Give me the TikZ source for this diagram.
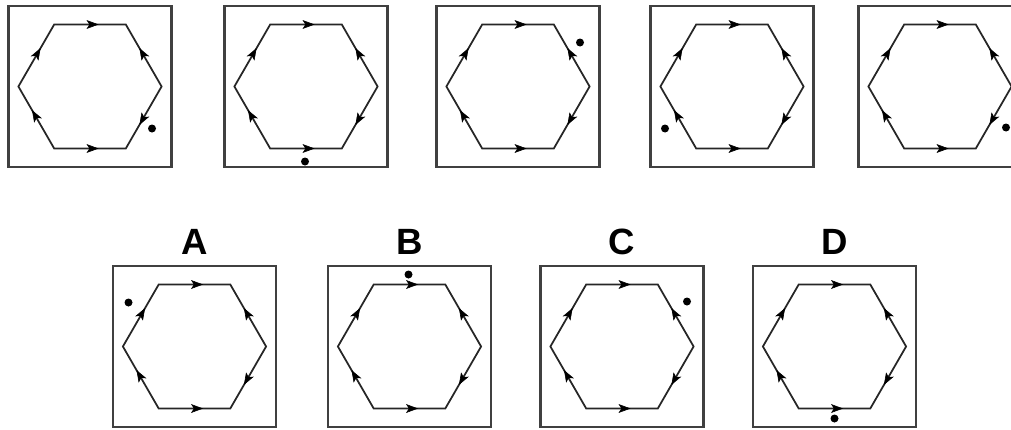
\documentclass[tikz,border=0pt]{standalone}
\usepackage{fontspec}
\setsansfont{Liberation Sans}
\usetikzlibrary{calc,decorations.markings,arrows.meta}

\tikzset{
  panel/.style={draw=black!75, line width=1.5pt, minimum width=4.075cm, minimum height=4.025cm, inner sep=0pt},
  hexline/.style={draw=black!85, line width=1.25pt, line join=miter},
  flow/.style={postaction={decorate}, decoration={markings,
      mark=at position 0.62 with {\arrow{Stealth[length=3mm,width=2.2mm,inset=0.7mm]}}}},
  lbl/.style={font=\sffamily\bfseries\fontsize{26}{30}\selectfont, inner sep=0pt, anchor=base},
}

% one panel: name, centre, offset of the dot
\newcommand{\hexpanel}[3]{
  \node[panel] (#1) at (#2) {};
  \foreach \k in {0,...,5}
    \coordinate (#1-\k) at ($(#1)+(\k*60:1.79)$);
  \draw[hexline] (#1-0) -- (#1-1) -- (#1-2) -- (#1-3) -- (#1-4) -- (#1-5) -- cycle;
  \path[flow] (#1-2) -- (#1-1); % top
  \path[flow] (#1-0) -- (#1-1); % upper right
  \path[flow] (#1-0) -- (#1-5); % lower right
  \path[flow] (#1-4) -- (#1-5); % bottom
  \path[flow] (#1-4) -- (#1-3); % lower left
  \path[flow] (#1-3) -- (#1-2); % upper left
  \fill[black] ($(#1)+(#3)$) circle (0.1);
}

\begin{document}
\begin{tikzpicture}
    \useasboundingbox (0,0) rectangle (25.275,10.725);

    % Sequence
    \hexpanel{p1}{2.25,8.5625}{1.55,-1.05}
    \hexpanel{p2}{7.65,8.5625}{-0.025,-1.875}
    \hexpanel{p3}{12.95,8.5625}{1.55,1.1}
    \hexpanel{p4}{18.3,8.5625}{-1.675,-1.05}
    \hexpanel{p5}{23.5,8.5625}{1.65,-1.025}

    % Answers
    \hexpanel{a}{4.8625,2.0625}{-1.65,1.1}
    \hexpanel{b}{10.2375,2.0625}{-0.025,1.8}
    \hexpanel{c}{15.55,2.0625}{1.625,1.125}
    \hexpanel{d}{20.8625,2.0625}{0,-1.8}

    \node[lbl] (la) at ($(a.north)+(0,0.25)$) {A};
    \node[lbl] (lb) at ($(b.north)+(0,0.25)$) {B};
    \node[lbl] (lc) at ($(c.north)+(0,0.25)$) {C};
    \node[lbl] (ld) at ($(d.north)+(0,0.25)$) {D};
\end{tikzpicture}
\end{document}
